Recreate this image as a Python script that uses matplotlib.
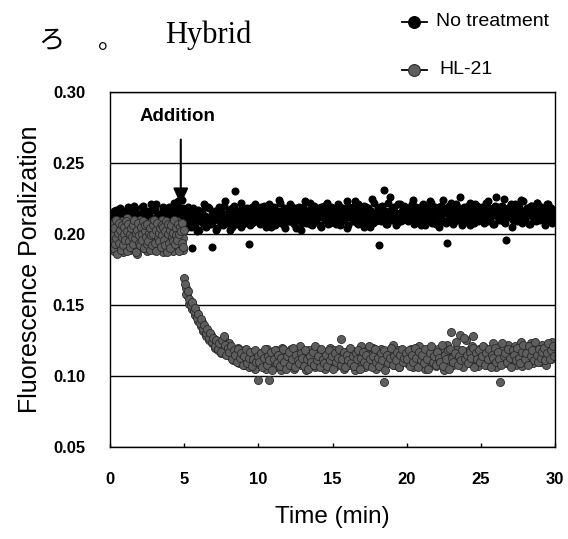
import numpy as np
import matplotlib
matplotlib.use("Agg")
import matplotlib.pyplot as plt
from matplotlib.lines import Line2D

# Fluorescence polarization readings, in units of 0.001.
# Each series is read every 0.05 min; the readings are kept as two
# interleaved runs (a: on the 0.1 min grid, b: offset by half a step).

# No treatment, run a: 0 - 29.9 min
no_treatment_a = [
    208, 214, 203, 211, 217, 205, 209, 213, 201, 216,
    207, 212, 219, 204, 210, 215, 206, 218, 202, 211,
    214, 208, 220, 205, 213, 209, 216, 203, 211, 217,
    207, 221, 210, 204, 214, 212, 218, 206, 209, 215,
    219, 208, 213, 222, 205, 211, 223, 209, 216, 212,
    210, 204, 215, 207, 212, 190, 218, 206, 211, 214,
    203, 209, 216, 208, 213, 205, 219, 210, 207, 191,
    215, 211, 204, 217, 209, 213, 206, 220, 212, 208,
    214, 203, 218, 210, 230, 207, 215, 212, 205, 219,
    211, 216, 209, 213, 193, 217, 208, 214, 221, 210,
    213, 207, 219, 211, 216, 205, 214, 221, 209, 212,
    217, 206, 215, 210, 224, 208, 213, 218, 204, 211,
    216, 209, 220, 214, 207, 212, 218, 210, 215, 203,
    219, 213, 208, 216, 211, 222, 206, 214, 217, 209,
    212, 218, 205, 215, 220, 210, 213, 207, 216, 219,
    211, 217, 208, 214, 221, 206, 213, 218, 210, 215,
    204, 219, 212, 216, 209, 223, 214, 207, 217, 211,
    215, 220, 208, 213, 218, 205, 216, 212, 222, 209,
    214, 192, 219, 211, 217, 231, 207, 215, 212, 226,
    210, 218, 213, 206, 221, 214, 209, 216, 220, 212,
    215, 209, 219, 212, 224, 207, 216, 213, 218, 210,
    214, 221, 206, 217, 211, 215, 223, 208, 213, 219,
    212, 216, 205, 220, 214, 209, 218, 194, 215, 211,
    222, 207, 217, 213, 219, 210, 226, 214, 208, 216,
    212, 220, 215, 206, 218, 211, 221, 213, 209, 217,
    214, 219, 208, 216, 212, 223, 210, 215, 218, 207,
    226, 213, 217, 211, 220, 209, 214, 196, 216, 212,
    219, 205, 215, 221, 210, 217, 213, 224, 208, 216,
    211, 218, 214, 207, 220, 212, 216, 209, 222, 215,
    210, 218, 213, 206, 217, 221, 211, 215, 208, 214,
]

# No treatment, run b: 0.05 - 29.95 min
no_treatment_b = [
    211, 204, 216, 209, 213, 202, 218, 207, 212, 205,
    215, 210, 203, 217, 208, 213, 220, 206, 211, 214,
    204, 219, 209, 212, 216, 207, 213, 221, 205, 210,
    217, 208, 214, 203, 212, 219, 209, 215, 206, 213,
    210, 218, 204, 216, 212, 220, 207, 214, 224, 218,
    213, 207, 219, 211, 205, 216, 209, 214, 202, 217,
    210, 215, 208, 221, 212, 206, 218, 211, 214, 209,
    216, 203, 212, 219, 207, 215, 210, 223, 208, 213,
    217, 211, 205, 220, 214, 209, 216, 212, 222, 207,
    215, 210, 218, 213, 206, 219, 211, 216, 209, 214,
    216, 210, 213, 220, 207, 215, 211, 218, 205, 214,
    219, 212, 208, 216, 222, 210, 214, 206, 217, 213,
    209, 221, 215, 211, 218, 204, 214, 219, 212, 208,
    216, 223, 210, 215, 207, 218, 213, 220, 209, 216,
    214, 206, 219, 212, 217, 210, 222, 215, 208, 213,
    218, 212, 207, 215, 220, 209, 214, 217, 211, 223,
    206, 216, 213, 219, 210, 215, 208, 221, 214, 212,
    217, 205, 219, 213, 216, 210, 225, 208, 215, 211,
    218, 214, 209, 220, 212, 216, 207, 222, 213, 217,
    211, 219, 215, 208, 214, 221, 210, 216, 213, 218,
    212, 217, 210, 221, 214, 208, 219, 213, 216, 206,
    220, 215, 211, 218, 209, 214, 222, 212, 217, 207,
    215, 219, 213, 210, 224, 216, 208, 214, 220, 211,
    217, 213, 209, 221, 215, 218, 212, 206, 219, 214,
    216, 210, 222, 213, 217, 208, 215, 220, 212, 218,
    217, 211, 215, 222, 209, 218, 213, 216, 207, 220,
    214, 219, 210, 216, 212, 225, 208, 215, 218, 213,
    221, 210, 217, 214, 209, 219, 216, 212, 223, 211,
    215, 218, 207, 220, 213, 217, 210, 222, 214, 216,
    219, 212, 215, 209, 221, 217, 213, 218, 211, 216,
]

# HL-21 before addition, run a (0.05 min grid) and run b (offset 0.025 min)
hl21_before_a = [
    199, 205, 192, 208, 196, 201, 188, 203, 210, 194,
    197, 206, 190, 200, 204, 193, 209, 198, 187, 202,
    205, 195, 199, 211, 191, 203, 197, 189, 206, 200,
    194, 208, 201, 192, 198, 204, 186, 207, 196, 202,
    210, 193, 199, 205, 190, 197, 203, 195, 208, 200,
    188, 204, 198, 192, 206, 201, 195, 209, 197, 189,
    203, 199, 207, 194, 200, 191, 205, 198, 202, 196,
    210, 193, 187, 204, 199, 206, 195, 201, 190, 208,
    197, 203, 192, 200, 205, 188, 198, 207, 194, 202,
    209, 196, 191, 204, 199, 193, 206, 201, 197, 189,
]
hl21_before_b = [
    202, 195, 207, 190, 199, 204, 193, 210, 197, 186,
    201, 208, 194, 203, 189, 206, 198, 192, 205, 200,
    196, 209, 188, 202, 207, 195, 200, 191, 204, 198,
    206, 193, 210, 197, 201, 187, 203, 208, 194, 199,
    192, 205, 200, 196, 209, 190, 202, 206, 198, 193,
    207, 195, 201, 189, 204, 199, 192, 206, 200, 210,
    194, 203, 188, 208, 197, 201, 195, 204, 191, 206,
    199, 205, 196, 192, 202, 209, 187, 200, 207, 194,
    203, 190, 206, 198, 201, 195, 210, 193, 204, 199,
    196, 207, 200, 188, 205, 202, 194, 208, 191, 203,
]

# HL-21 after addition, run a: 5.0 - 29.9 min
hl21_after_a = [
    169, 162, 157, 151, 153, 147, 149, 143, 145, 139,
    141, 135, 138, 132, 134, 128, 131, 125, 129, 123,
    126, 120, 124, 118, 122, 116, 121, 127, 117, 119,
    123, 114, 119, 111, 117, 113, 120, 109, 116, 112,
    118, 108, 115, 111, 106, 117, 110, 114, 105, 116,
    97, 114, 108, 117, 111, 105, 119, 97, 112, 109,
    115, 106, 118, 110, 113, 104, 120, 111, 108, 116,
    112, 107, 119, 113, 105, 117, 110, 114, 121, 108,
    111, 116, 104, 113, 118, 109, 115, 112, 106, 119,
    110, 114, 108, 117, 111, 105, 116, 113, 120, 109,
    112, 118, 107, 114, 110, 116, 126, 111, 105, 117,
    113, 108, 119, 112, 115, 104, 117, 110, 114, 121,
    109, 113, 106, 118, 111, 115, 108, 120, 112, 105,
    116, 110, 114, 119, 107, 96, 113, 117, 111, 109,
    115, 122, 108, 112, 118, 106, 114, 110, 117, 113,
    109, 116, 112, 119, 106, 114, 110, 117, 121, 108,
    113, 115, 105, 118, 111, 114, 120, 109, 112, 116,
    107, 119, 113, 110, 117, 104, 115, 122, 111, 114,
    131, 108, 116, 112, 119, 110, 129, 114, 106, 117,
    125, 113, 118, 109, 121, 128, 112, 115, 107, 119,
    111, 116, 113, 120, 108, 114, 117, 110, 123, 112,
    106, 118, 114, 96, 111, 119, 115, 109, 122, 113,
    117, 110, 114, 121, 108, 116, 112, 124, 107, 115,
    119, 111, 117, 113, 123, 109, 116, 120, 112, 118,
    110, 122, 114, 117, 108, 121, 115, 112, 124, 118,
]

# HL-21 after addition, run b: 5.05 - 29.95 min
hl21_after_b = [
    165, 158, 160, 154, 150, 152, 146, 148, 141, 144,
    137, 140, 133, 136, 130, 133, 127, 130, 124, 127,
    121, 125, 119, 123, 117, 125, 128, 122, 115, 120,
    117, 121, 112, 118, 115, 110, 119, 113, 116, 108,
    114, 119, 109, 113, 117, 107, 112, 118, 110, 114,
    110, 116, 106, 113, 119, 108, 114, 111, 117, 104,
    112, 118, 109, 115, 107, 113, 119, 110, 105, 114,
    117, 108, 112, 120, 106, 115, 111, 109, 116, 113,
    107, 118, 112, 105, 114, 110, 117, 108, 121, 111,
    114, 106, 119, 112, 109, 115, 107, 118, 111, 114,
    105, 116, 110, 113, 119, 108, 112, 117, 106, 115,
    111, 120, 109, 114, 107, 116, 112, 118, 105, 113,
    117, 110, 115, 108, 121, 112, 106, 114, 119, 110,
    113, 107, 116, 111, 118, 104, 115, 109, 113, 120,
    108, 114, 111, 117, 106, 115, 119, 110, 113, 116,
    112, 118, 107, 115, 110, 120, 113, 106, 117, 111,
    115, 109, 119, 112, 105, 116, 121, 110, 114, 108,
    117, 113, 110, 122, 107, 115, 112, 118, 105, 119,
    113, 110, 116, 124, 108, 114, 111, 118, 127, 112,
    115, 109, 117, 113, 120, 106, 116, 112, 118, 110,
    114, 121, 108, 116, 112, 119, 106, 115, 113, 120,
    110, 117, 112, 108, 123, 114, 116, 110, 119, 113,
    106, 118, 115, 111, 120, 113, 109, 117, 122, 112,
    116, 108, 121, 114, 118, 111, 124, 115, 110, 119,
    113, 117, 120, 111, 116, 123, 112, 118, 121, 114,
]

addition_time = 4.77

# sampling times for each run
t_nt = np.concatenate([np.arange(len(no_treatment_a)) * 0.1,
                       0.05 + np.arange(len(no_treatment_b)) * 0.1])
y_nt = np.array(no_treatment_a + no_treatment_b) / 1000
t_hl = np.concatenate([np.arange(len(hl21_before_a)) * 0.05,
                       0.025 + np.arange(len(hl21_before_b)) * 0.05,
                       5.0 + np.arange(len(hl21_after_a)) * 0.1,
                       5.05 + np.arange(len(hl21_after_b)) * 0.1])
y_hl = np.array(hl21_before_a + hl21_before_b + hl21_after_a + hl21_after_b) / 1000

BLACK = "#000000"
GRAY = "#5e5e5e"
GRAY_EDGE = "#2a2a2a"

fig = plt.figure(figsize=(5.68, 5.39), dpi=100)
ax = fig.add_axes([0.1937, 0.1707, 0.7835, 0.6586])

ax.plot(t_nt, y_nt, "o", ms=5.8, color=BLACK, mew=0)
ax.plot(t_hl, y_hl, "o", ms=5.8, mfc=GRAY, mec=GRAY_EDGE, mew=0.6)

ax.set_xlim(0, 30)
ax.set_ylim(0.05, 0.30)
ax.set_xticks([0, 5, 10, 15, 20, 25, 30])
ax.set_yticks([0.05, 0.10, 0.15, 0.20, 0.25, 0.30])
ax.set_yticklabels(["%.2f" % v for v in ax.get_yticks()])
ax.yaxis.grid(True, color="black", lw=1)
ax.set_axisbelow(True)
for s in ax.spines.values():
    s.set_color("black")
    s.set_linewidth(1)

ax.tick_params(axis="y", length=0, pad=18)
ax.tick_params(axis="x", direction="in", length=3, width=1, pad=18)
for lab in ax.get_xticklabels() + ax.get_yticklabels():
    lab.set_family("Liberation Sans")
    lab.set_fontweight("bold")
    lab.set_fontsize(12)

ax.set_xlabel("Time (min)", family="Liberation Sans", fontsize=17.5, labelpad=14)
ax.set_ylabel("Fluorescence Poralization", family="Liberation Sans",
              fontsize=18, labelpad=8)

# addition marker
ax.annotate("", xy=(addition_time, 0.2205), xytext=(addition_time, 0.2665),
            arrowprops=dict(arrowstyle="-|>,head_length=1.0,head_width=0.45",
                            color="black", lw=1.5, shrinkA=0, shrinkB=0))
ax.text(4.58, 0.2828, "Addition", family="Liberation Sans", fontweight="bold",
        fontsize=13.5, ha="center", va="center")

# legend drawn in figure coordinates
W, H = 568.0, 539.0
for y_px, label, mfc, mec, tx in [(22, "No treatment", BLACK, BLACK, 436),
                                  (70, "HL-21", GRAY, GRAY_EDGE, 439)]:
    yy = 1 - y_px / H
    fig.add_artist(Line2D([402 / W, 414 / W, 427 / W], [yy, yy, yy],
                          transform=fig.transFigure, color="black", lw=1.3,
                          marker="o", markevery=[1], ms=8.5, mfc=mfc, mec=mec,
                          mew=0.8))
    fig.text(tx / W, yy, label, family="Liberation Sans", fontsize=14,
             ha="left", va="center")

# stray page text above the chart
fig.text(38 / W, 1 - 48 / H, "ろ", family=["Noto Sans CJK JP", "DejaVu Sans"],
         fontsize=19, ha="left", va="baseline")
fig.text(98 / W, 1 - 48 / H, "。", family=["Noto Sans CJK JP", "DejaVu Sans"],
         fontsize=18, ha="left", va="baseline")
fig.text(165 / W, 1 - 43 / H, "Hybrid", family="Liberation Serif",
         fontsize=22, ha="left", va="baseline")

fig.savefig("out.png", dpi=100)
